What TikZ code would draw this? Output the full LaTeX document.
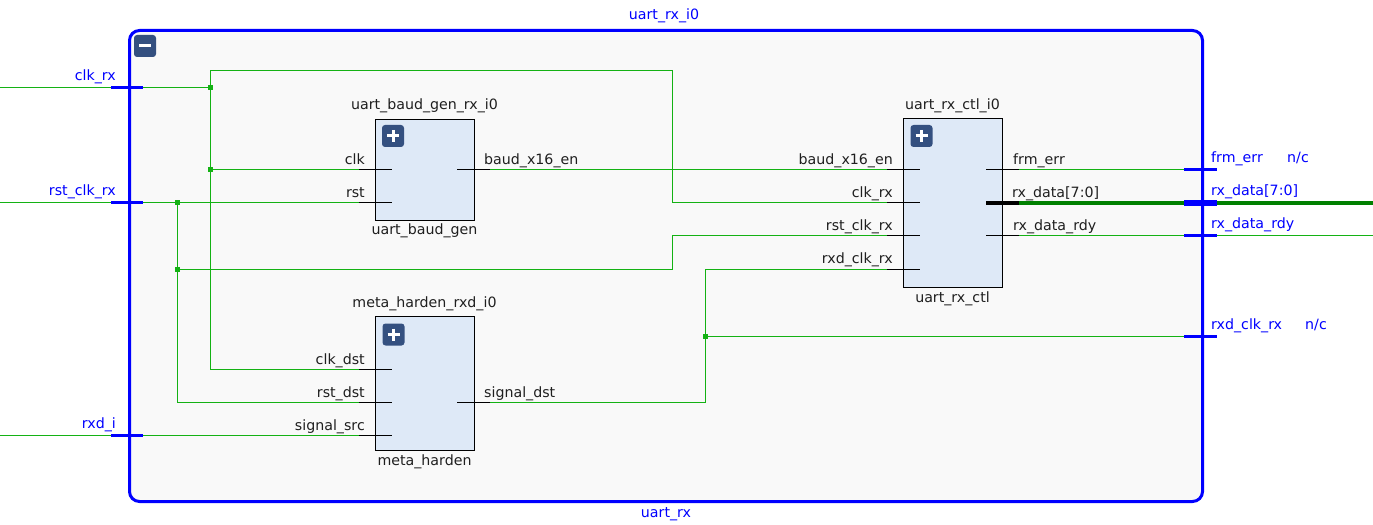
\documentclass[tikz,border=0pt]{standalone}
\usepackage{fontspec}
\setmainfont{DejaVu Sans}
\usetikzlibrary{calc}
\definecolor{netgreen}{RGB}{20,178,20}
\definecolor{busgreen}{RGB}{0,128,0}
\definecolor{portblue}{RGB}{0,0,255}
\definecolor{cellfill}{RGB}{222,233,247}
\definecolor{iconblue}{RGB}{52,80,128}
\definecolor{bgfill}{RGB}{249,249,249}
\tikzset{
  net/.style={netgreen, line width=1bp},
  bus/.style={busgreen, line width=4bp},
  stub/.style={black, line width=1bp},
  cell/.style={draw=black, fill=cellfill, line width=1.2bp, anchor=north west, inner sep=0pt},
  txt/.style={font=\fontsize{14.2bp}{16bp}\selectfont, inner sep=0pt, text=black!88},
  ptxt/.style={txt, text=portblue},
  tick/.style={portblue, line width=3bp},
  jdot/.style={fill=netgreen, minimum size=5bp, inner sep=0pt},
  iconbox/.style={fill=iconblue, rounded corners=3bp, minimum size=22bp, inner sep=0pt},
}
\newcommand{\inpin}[4]{\draw[stub] (#2,#3) coordinate (#1) -- ++(33,0); \node[txt, anchor=base east] (#1-lbl) at (#2+6,#3-5) {#4};}
\newcommand{\outpin}[4]{\draw[stub] (#2,#3) -- ++(33,0) coordinate (#1); \node[txt, anchor=base west] (#1-lbl) at (#2+27,#3-5) {#4};}
\newcommand{\lport}[3]{\draw[tick] (111,#2) -- (143,#2); \node[ptxt, anchor=base east] (#1) at (116,#2-7) {#3};}
\newcommand{\rport}[3]{\draw[tick] (1184,#2) coordinate (#1) -- (1217,#2); \node[ptxt, anchor=base west] (#1-lbl) at (1211,#2-7) {#3};}
\newcommand{\plusicon}[3]{\node[iconbox] (#1) at (#2,#3) {}; \draw[white, line width=3bp] ($(#1)+(-6,0)$) -- ($(#1)+(6,0)$) ($(#1)+(0,-6)$) -- ($(#1)+(0,6)$);}

\begin{document}
\begin{tikzpicture}[x=1bp, y=-1bp]
    \useasboundingbox (0,0) rectangle (1373,525);
    % hierarchy box
    \node[draw=portblue, line width=3bp, fill=bgfill, rounded corners=10bp, anchor=north west,
          minimum width=1073bp, minimum height=471bp, inner sep=0pt] (top) at (128,29) {};
    \node[ptxt, anchor=base] (top-inst) at (664,20) {uart\_rx\_i0};
    \node[ptxt, anchor=base] (top-mod) at (666,517) {uart\_rx};
    \node[iconbox] (collapse) at (145,46) {};
    \draw[white, line width=3bp] ($(collapse)+(-6,0)$) -- ($(collapse)+(6,0)$);

    % cells
    \node[cell, minimum width=99bp, minimum height=101bp] (bg) at (375,119) {};
    \node[txt, anchor=base] (bg-inst) at (424.5,110) {uart\_baud\_gen\_rx\_i0};
    \node[txt, anchor=base] (bg-mod) at (424.5,235) {uart\_baud\_gen};
    \plusicon{bg-icon}{393}{136}

    \node[cell, minimum width=99bp, minimum height=169bp] (ctl) at (903,118) {};
    \node[txt, anchor=base] (ctl-inst) at (952.5,110) {uart\_rx\_ctl\_i0};
    \node[txt, anchor=base] (ctl-mod) at (952.5,302) {uart\_rx\_ctl};
    \plusicon{ctl-icon}{921.5}{136}

    \node[cell, minimum width=99bp, minimum height=134bp] (md) at (375,316) {};
    \node[txt, anchor=base] (md-inst) at (424.5,307) {meta\_harden\_rxd\_i0};
    \node[txt, anchor=base] (md-mod) at (424.5,465) {meta\_harden};
    \plusicon{md-icon}{393.5}{334.5}

    % junctions
    \coordinate (j-clk) at (210,88);
    \coordinate (j-clk2) at (210,170);
    \coordinate (j-rst) at (177,203);
    \coordinate (j-rst2) at (177,269);
    \coordinate (j-sig) at (705,336);
    \coordinate (clkbend) at (672,71);
    \coordinate (rstbend) at (672,236);
    \coordinate (sigbend) at (705,269);
    \coordinate (clkrx-ext) at (0,88);
    \coordinate (rstclk-ext) at (0,203);
    \coordinate (rxdi-ext) at (0,435);
    \coordinate (data-ext) at (1373,203);
    \coordinate (rdy-ext) at (1373,236);

    % pins
    \inpin{bg-clk}{359}{170}{clk}
    \inpin{bg-rst}{359}{203}{rst}
    \outpin{bg-baud}{457}{170}{baud\_x16\_en}

    \inpin{ctl-baud}{887}{170}{baud\_x16\_en}
    \inpin{ctl-clk}{887}{203}{clk\_rx}
    \inpin{ctl-rst}{887}{236}{rst\_clk\_rx}
    \inpin{ctl-rxd}{887}{269}{rxd\_clk\_rx}
    \outpin{ctl-frm}{986}{170}{frm\_err}
    \draw[stub, line width=4bp] (986,203) -- (1019,203) coordinate (ctl-data);
    \node[txt, anchor=base west] (ctl-data-lbl) at (1012,198) {rx\_data[7:0]};
    \outpin{ctl-rdy}{986}{236}{rx\_data\_rdy}

    \inpin{md-clk}{359}{369}{clk\_dst}
    \inpin{md-rst}{359}{402}{rst\_dst}
    \inpin{md-src}{359}{435}{signal\_src}
    \outpin{md-sig}{457}{402}{signal\_dst}

    % nets
    \draw[net] (clkrx-ext) -- (j-clk);
    \draw[net] (md-clk) -| (clkbend -| j-clk) -- (clkbend) |- (ctl-clk);
    \draw[net] (j-clk2) -- (bg-clk);
    \draw[net] (rstclk-ext) -- (bg-rst);
    \draw[net] (j-rst) |- (md-rst);
    \draw[net] (j-rst2) -| (rstbend) -- (ctl-rst);
    \draw[net] (rxdi-ext) -- (md-src);
    \draw[net] (bg-baud) -- (ctl-baud);
    \draw[net] (md-sig) -| (sigbend) -- (ctl-rxd);
    \draw[net] (j-sig) -- (1184,336);
    \draw[net] (ctl-frm) -- (1184,170);
    \draw[bus] (ctl-data) -- (data-ext);
    \draw[net] (ctl-rdy) -- (rdy-ext);

    \foreach \j in {j-clk, j-clk2, j-rst, j-rst2, j-sig}
        \node[jdot] at (\j) {};

    % ports
    \lport{clkrx}{88}{clk\_rx}
    \lport{rstclk}{203}{rst\_clk\_rx}
    \lport{rxdi}{435}{rxd\_i}
    \rport{frm}{170}{frm\_err}
    \node[ptxt, anchor=base west] (frm-nc) at (1287,163) {n/c};
    \draw[tick, line width=6bp] (1184,203) coordinate (data) -- (1217,203);
    \node[ptxt, anchor=base west] (data-lbl) at (1211,196) {rx\_data[7:0]};
    \rport{rdy}{236}{rx\_data\_rdy}
    \rport{rxdclk}{336}{rxd\_clk\_rx}
    \node[ptxt, anchor=base west] (rxdclk-nc) at (1305,329) {n/c};
\end{tikzpicture}
\end{document}
